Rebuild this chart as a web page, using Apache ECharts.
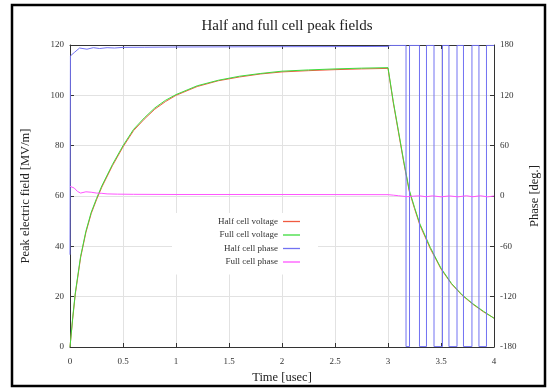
<!DOCTYPE html>
<html>
<head>
<meta charset="utf-8">
<script src="https://cdn.jsdelivr.net/npm/echarts@6/dist/echarts.min.js"></script>
<style>
  html, body { margin: 0; padding: 0; background: #fff; }
  #chart { width: 549px; height: 391px; }
</style>
</head>
<body>
<div id="chart"></div>
<script>
// voltage curves, time in usec
const voltTime = [0, 0.025, 0.05, 0.1, 0.15, 0.2, 0.25, 0.3, 0.4, 0.5, 0.6, 0.7, 0.8, 0.9, 1.0,
  1.2, 1.4, 1.6, 1.8, 2.0, 2.25, 2.5, 2.75, 3.0, 3.05, 3.1, 3.15, 3.2, 3.25, 3.3, 3.4, 3.5,
  3.6, 3.7, 3.8, 3.9, 4.0];
const halfVolt = [0, 11, 21, 35.5, 45.5, 53, 58.5, 63.5, 72, 79.5, 86, 90.5, 94.5, 97.5, 100,
  103.5, 105.8, 107.3, 108.5, 109.3, 109.8, 110.2, 110.5, 110.7, 97, 85, 73, 62, 55, 48.5, 39, 31,
  25, 20.5, 17, 14, 11.5];
const fullVolt = [0, 11.5, 21.5, 36, 46, 53.5, 59, 64, 72.5, 80, 86.5, 91, 95, 98, 100.3,
  103.8, 106, 107.6, 108.7, 109.6, 110.1, 110.5, 110.8, 111, 97.5, 85.5, 73.5, 62.5, 55.5, 49, 39.5, 31.3,
  25.2, 20.7, 17.2, 14.2, 11.4];

// phases (deg.), wrapping at +-180 after the pulse ends
const halfPhaseTime = [0, 0.004, 0.04, 0.09, 0.16, 0.22, 0.28, 0.35, 0.42, 0.5, 0.7, 1.0, 1.5, 2.0, 2.5, 3.0, 3.02,
  3.17, 3.17, 3.203, 3.203, 3.297, 3.297, 3.363, 3.363, 3.434, 3.434, 3.514, 3.514, 3.575, 3.575,
  3.651, 3.651, 3.712, 3.712, 3.792, 3.792, 3.858, 3.858, 3.929, 3.929, 4.0];
const halfPhase = [-70, 167, 171, 176.4, 175, 176.8, 175.8, 176.8, 176.4, 177.2, 177.3, 177.6, 177.8, 178, 178.1, 178.3, 179.5,
  179.5, -179.5, -179.5, 179.5, 179.5, -179.5, -179.5, 179.5, 179.5, -179.5, -179.5, 179.5, 179.5, -179.5,
  -179.5, 179.5, 179.5, -179.5, -179.5, 179.5, 179.5, -179.5, -179.5, 179.5, 179.5];
const fullPhaseTime = [0, 0.04, 0.07, 0.1, 0.15, 0.2, 0.25, 0.3, 0.35, 0.45, 0.6, 1.0, 2.0, 3.0, 3.05, 3.1,
  3.18, 3.24, 3.3, 3.36, 3.42, 3.5, 3.58, 3.66, 3.74, 3.8, 3.87, 3.94, 4.0];
const fullPhase = [11.5, 9.5, 5.5, 3.5, 5, 4.5, 3.5, 3.2, 2.5, 2.2, 2, 1.8, 1.8, 1.6, 1.0, 0.3,
  -0.8, -0.2, 0.2, -0.9, 0.2, -1.0, 0.1, -1.0, 0.3, -0.9, 0.3, -1.0, 0];

const timeTicks = { min: 0, max: 4, interval: 0.5 };
const fieldTicks = { min: 0, max: 120, interval: 20 };
const phaseTicks = { min: -180, max: 180, interval: 60 };

function pairs(xs, ys) {
  return xs.map((x, i) => [x, ys[i]]);
}

const serif = 'Liberation Serif';
const axisCol = '#333';
const labelStyle = { fontFamily: serif, fontSize: 9, color: '#333' };
const nameStyle = { fontFamily: serif, fontSize: 12.5, color: '#222' };

function lineSeries(name, axis, color, data) {
  return {
    name: name, type: 'line', yAxisIndex: axis,
    symbol: 'none', color: color, lineStyle: { width: 1 },
    data: data
  };
}

const chart = echarts.init(document.getElementById('chart'));
chart.setOption({
  animation: false,
  backgroundColor: '#fff',
  title: {
    text: 'Half and full cell peak fields',
    left: 282, top: 14, textAlign: 'center',
    textStyle: { fontFamily: serif, fontSize: 15, fontWeight: 'normal', color: '#222' }
  },
  grid: { left: 70, right: 55, top: 45, bottom: 44, containLabel: false, outerBoundsMode: 'none' },
  legend: {
    orient: 'vertical',
    align: 'right',
    right: 231, top: 213,
    icon: 'path://M0,0H17V1.3H0Z',
    itemWidth: 17, itemHeight: 11, itemGap: 4.5,
    padding: [4, 18, 8, 46],
    backgroundColor: '#fff',
    textStyle: labelStyle,
    data: ['Half cell voltage', 'Full cell voltage', 'Half cell phase', 'Full cell phase']
  },
  xAxis: [{
    type: 'value', position: 'bottom',
    min: timeTicks.min, max: timeTicks.max, interval: timeTicks.interval,
    name: 'Time [usec]', nameLocation: 'middle', nameGap: 24,
    nameTextStyle: nameStyle,
    axisLine: { onZero: false, lineStyle: { color: axisCol } },
    axisTick: { inside: true, length: 4, lineStyle: { color: axisCol } },
    axisLabel: Object.assign({ margin: 10 }, labelStyle),
    splitLine: { lineStyle: { color: '#e2e2e2' } }
  }, {
    type: 'value', position: 'top',
    min: timeTicks.min, max: timeTicks.max, interval: timeTicks.interval,
    axisLine: { onZero: false, lineStyle: { color: axisCol } },
    axisTick: { inside: true, length: 4, lineStyle: { color: axisCol } },
    axisLabel: { show: false },
    splitLine: { show: false }
  }],
  yAxis: [{
    type: 'value', position: 'left',
    min: fieldTicks.min, max: fieldTicks.max, interval: fieldTicks.interval,
    name: 'Peak electric field [MV/m]', nameLocation: 'middle', nameGap: 38,
    nameTextStyle: nameStyle,
    axisLine: { show: true, onZero: false, lineStyle: { color: axisCol } },
    axisTick: { show: true, inside: true, length: 4, lineStyle: { color: axisCol } },
    axisLabel: Object.assign({ margin: 6 }, labelStyle),
    splitLine: { lineStyle: { color: '#e2e2e2' } }
  }, {
    type: 'value', position: 'right',
    min: phaseTicks.min, max: phaseTicks.max, interval: phaseTicks.interval,
    name: 'Phase [deg.]', nameLocation: 'middle', nameGap: 34, nameRotate: 90,
    nameTextStyle: nameStyle,
    axisLine: { show: true, onZero: false, lineStyle: { color: axisCol } },
    axisTick: { show: true, inside: true, length: 4, lineStyle: { color: axisCol } },
    axisLabel: Object.assign({ margin: 6 }, labelStyle),
    splitLine: { show: false }
  }],
  series: [
    lineSeries('Half cell voltage', 0, '#f05a40', pairs(voltTime, halfVolt)),
    lineSeries('Full cell voltage', 0, '#3ddc3d', pairs(voltTime, fullVolt)),
    lineSeries('Half cell phase', 1, '#7272f2', pairs(halfPhaseTime, halfPhase)),
    lineSeries('Full cell phase', 1, '#ff55ff', pairs(fullPhaseTime, fullPhase))
  ],
  graphic: [{
    type: 'rect', silent: true,
    shape: { x: 12, y: 5, width: 533, height: 381 },
    style: { fill: 'none', stroke: '#000', lineWidth: 2.5 }
  }]
});
</script>
</body>
</html>
